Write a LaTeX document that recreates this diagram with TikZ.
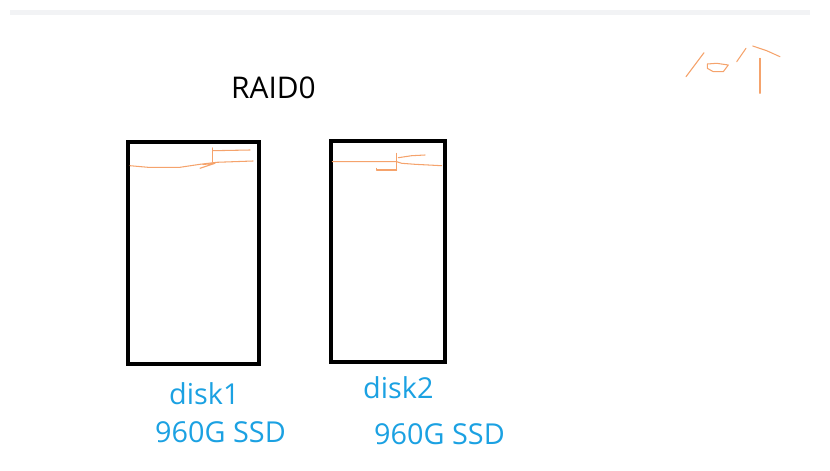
\documentclass[tikz,border=0pt]{standalone}
\usepackage{fontspec}
\setmainfont{Open Sans}
\usetikzlibrary{positioning}
\definecolor{labelblue}{HTML}{1BA1E2}
\definecolor{pen}{HTML}{F5A36C}
\definecolor{band}{HTML}{F2F3F5}

\begin{document}
\begin{tikzpicture}[x=0.03cm,y=-0.03cm,
  diskbox/.style={line width=3.4pt},
  scribble/.style={pen,line width=0.9pt,line cap=round,line join=round},
  disklabel/.style={labelblue,anchor=base west,inner sep=0,font=\fontsize{24.6}{28}\selectfont}]
  \useasboundingbox (0,0) rectangle (830,471);
  % grey band at the top
  \fill[band] (10,10) rectangle (810,15);

  % title
  \node[anchor=base west,inner sep=0,font=\fontsize{25.5}{30}\selectfont] (title) at (231,98) {RAID0};

  % the two disks
  \draw[diskbox] (128,142) rectangle (259,364);
  \draw[diskbox] (331,141) rectangle (445,362);

  % labels under the disks
  \node[disklabel] (name1) at (169,404) {disk1};
  \node[disklabel] (size1) at (155,442) {960G SSD};
  \node[disklabel] (name2) at (363,398) {disk2};
  \node[disklabel] (size2) at (374,444) {960G SSD};

  % hand marks in the first disk
  \draw[scribble] (130,165.7) -- (148,167.3) -- (180,167.3) -- (200,164.3) -- (216.7,162.3) -- (253,161);
  \draw[scribble] (212.7,148) -- (212.7,162);
  \draw[scribble] (212.7,150.7) -- (250,150);
  \draw[scribble] (200,168.3) -- (215,163.3) -- (203,164.5);

  % hand marks in the second disk
  \draw[scribble] (332.3,161.7) -- (396.7,161.7) -- (401.7,163.3) -- (415,164.3) -- (441.7,165.7);
  \draw[scribble] (396.7,153.3) -- (396.7,170);
  \draw[scribble] (376.7,168.3) -- (376.7,170) -- (396.7,170);
  \draw[scribble] (398.3,157.7) -- (411.7,155.7) -- (425,155);

  % hand marks top right
  \draw[scribble] (686,76.7) -- (704,52.7);
  \draw[scribble] (707.3,64) -- (707.3,68.3) -- (713.3,71.7) -- (723.3,71.7) -- (728.3,65) -- (716.7,63.3) -- cycle;
  \draw[scribble] (736.7,61.7) -- (746,48.3);
  \draw[scribble] (752.7,46) -- (766.7,50.7) -- (780,56.7);
  \draw[scribble] (760,58.3) -- (760,93.3);
\end{tikzpicture}
\end{document}
